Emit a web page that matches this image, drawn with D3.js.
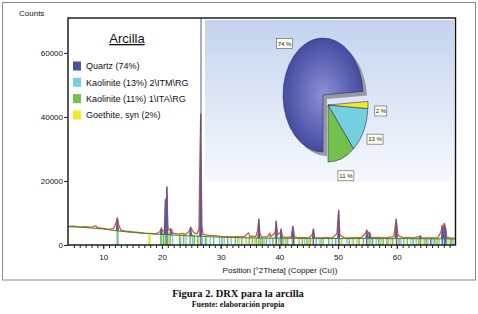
<!DOCTYPE html>
<html>
<head>
<meta charset="utf-8">
<script src="https://cdn.jsdelivr.net/npm/d3@7"></script>
<style>
  body { margin: 0; background: #fff; }
  svg { display: block; font-family: "Liberation Sans", Arial, sans-serif; }
</style>
</head>
<body>
<div id="chart"></div>
<script>
// axis ticks
const xTicks = [10, 20, 30, 40, 50, 60]
const yTicks = [0, 20000, 40000, 60000]

// fitted background (green)
const background = [
  [4, 5700], [6, 5600], [8, 5300], [10, 5000], [12, 4500], [14, 4100], [16, 3800],
  [18, 3500], [20, 3300], [22, 3100], [24, 2900], [26, 2750], [28, 2600], [30, 2450],
  [33, 2300], [36, 2200], [40, 2100], [45, 2050], [50, 2000], [55, 2000], [60, 2000],
  [65, 1950], [70, 1900]
]

// observed profile (red)
const observed = [
  [4, 5800], [5, 5900], [6, 5600], [7, 5700], [8, 5500], [8.7, 6000], [9, 5400], [10, 5200],
  [11, 4900], [11.8, 5200], [12.2, 7000], [12.4, 8500], [12.6, 6500], [13, 4600], [14, 4300],
  [15, 4100], [16, 3900], [17, 3700], [18, 3600], [19, 3500], [19.7, 4200], [19.9, 5400],
  [20.1, 4300], [20.4, 4500], [20.6, 14400], [20.75, 9000], [20.85, 18200], [21.0, 5500],
  [21.3, 4600], [21.5, 5200], [21.7, 4000], [22, 3600], [23, 3400], [23.5, 3600], [24, 3300],
  [24.6, 4200], [24.9, 5600], [25.2, 4500], [25.5, 3800], [26, 3500], [26.3, 5000],
  [26.6, 41000], [26.8, 6000], [27, 3300], [28, 3000], [29, 2900], [30, 2700], [31, 2600],
  [32, 2500], [33, 2600], [34, 2500], [34.7, 3800], [35, 2700], [36, 2700], [36.3, 4500],
  [36.5, 8100], [36.7, 3500], [37, 2500], [38, 2600], [38.3, 3500], [38.6, 2600], [39.3, 4000],
  [39.45, 7500], [39.7, 3200], [40.2, 4000], [40.3, 5000], [40.5, 2600], [41, 2400], [42, 2500],
  [42.3, 5900], [42.6, 2500], [43, 2300], [44, 2300], [45, 2200], [45.6, 3200], [45.8, 5000],
  [46, 2300], [47, 2200], [48, 2300], [49, 2200], [49.8, 3500], [50.1, 10900], [50.3, 3200],
  [51, 2300], [52, 2200], [53, 2300], [54, 2400], [54.7, 3800], [54.9, 4700], [55.2, 3500],
  [55.35, 4000], [55.6, 2400], [56, 2300], [57, 2300], [58, 2200], [59.5, 2600], [59.9, 8100],
  [60.2, 3000], [61, 2300], [62, 2300], [63, 2200], [64, 2800], [64.2, 2300], [65, 2200],
  [66, 2200], [67, 2300], [67.5, 4000], [67.75, 6200], [67.9, 4500], [68.1, 6800], [68.3, 5500],
  [68.5, 2500], [69, 2200], [70, 2100]
]

// calculated peaks (purple): position, top, base
const calcPeaks = [
  [12.4, 8000, 4500], [19.9, 5000, 3300], [20.6, 14000, 3300], [20.85, 18000, 3300],
  [21.5, 4800, 3200], [24.9, 5400, 2900], [26.6, 40500, 2750], [36.5, 8000, 2200],
  [39.45, 7400, 2100], [40.3, 4900, 2100], [42.3, 5800, 2100], [45.8, 4900, 2050],
  [50.1, 10800, 2000], [54.9, 4600, 2000], [55.35, 3900, 2000], [59.9, 8000, 2000],
  [64, 2700, 1950], [67.75, 6100, 1950], [68.1, 6700, 1950], [68.3, 5300, 1950]
]

// reference sticks per phase: position, counts
const quartzSticks = [
  [20.86, 4500], [26.64, 9000], [36.54, 3000], [39.47, 3200], [40.29, 2800], [42.45, 3000],
  [45.79, 2800], [50.14, 3600], [54.87, 2600], [55.33, 2400], [59.96, 3200], [64.04, 2400],
  [65.79, 2200], [67.74, 3000], [68.14, 3300], [68.32, 2600]
]
const kaol2Sticks = [
  [12.36, 8800], [20.0, 3600], [21.8, 5000], [23.2, 2500], [24.1, 3200], [25.2, 3400],
  [26.9, 2400], [27.6, 2300], [28.2, 2500], [29.8, 2400], [30.6, 2200], [31.8, 2200],
  [32.9, 2300], [34.3, 2400], [35.8, 2300], [37.4, 2000], [38.4, 4000], [41.0, 2100],
  [43.4, 2200], [44.3, 2100], [45.0, 2000], [46.9, 2000], [47.5, 2100], [49.0, 2200],
  [51.5, 2200], [52.6, 2100], [53.2, 2100], [55.6, 2300], [56.5, 2100], [57.2, 2100],
  [58.6, 2200], [60.7, 2100], [61.2, 2200], [62.4, 2300], [63.3, 2100], [65.3, 2200],
  [66.2, 2100], [67.2, 2200], [69.1, 2200], [69.6, 2100]
]
const kaol1Sticks = [
  [12.5, 8000], [19.8, 4200], [20.3, 4000], [20.6, 3800], [21.2, 3500], [21.4, 3300],
  [23.0, 3500], [23.7, 3300], [24.8, 4000], [25.5, 3200], [26.1, 3000], [27.4, 2800],
  [28.8, 2600], [30.2, 2500], [31.2, 2400], [32.5, 2500], [33.6, 2400], [34.9, 2600],
  [35.4, 2400], [36.1, 2300], [36.8, 2200], [37.1, 2200], [37.8, 2300], [38.9, 2300],
  [39.9, 2200], [40.6, 2200], [41.4, 2200], [42.2, 2300], [43.9, 2100], [44.7, 2100],
  [45.3, 2000], [46.3, 2100], [47.2, 2100], [48.4, 2200], [49.6, 2100], [50.6, 2100],
  [51.9, 2100], [53.6, 2200], [54.3, 2300], [55.9, 2100], [56.9, 2100], [57.7, 2100],
  [58.3, 2100], [59.3, 2200], [60.4, 2100], [61.8, 2100], [62.8, 2100], [63.7, 2200],
  [64.7, 2100], [65.0, 2100], [66.5, 2100], [66.9, 2100], [68.5, 2200], [69.3, 2100]
]
const goethiteSticks = [
  [17.8, 3300], [17.95, 3000], [21.2, 3600], [26.3, 2400], [33.2, 2400], [34.7, 2200],
  [35.9, 2100], [36.6, 2200], [39.98, 2000], [41.2, 2100], [43.3, 2000], [45.0, 2000],
  [47.3, 2000], [50.6, 2000], [52.4, 2000], [53.2, 2100], [55.3, 2000], [57.4, 2000],
  [59.0, 2100], [61.3, 2100], [63.9, 2100], [64.6, 2000], [66.8, 2000], [68.9, 2000]
]

// phase composition
const phases = ['Quartz (74%)', 'Kaolinite (13%) 2\\ITM\\RG', 'Kaolinite (11%) 1\\ITA\\RG', 'Goethite, syn (2%)']
const shares = [74, 13, 11, 2]
const pieLabels = ['74 %', '13 %', '11 %', '2 %']

const colors = ['#4a51a6', '#74cfde', '#74c04c', '#f2ea28']
const stickColors = ['#4650a8', '#72c9dc', '#76b84e', '#e6dc3a']

const width = 478
const height = 314
const margin = { top: 18, left: 68, right: 22.5, bottom: 69 }

const svg = d3.select('#chart').append('svg')
  .attr('width', width)
  .attr('height', height)

// outer frame
svg.append('rect')
  .attr('x', 2.5).attr('y', 2.5)
  .attr('width', 473).attr('height', 277.5)
  .attr('fill', 'none')
  .attr('stroke', '#8a8a8a')

const x = d3.scaleLinear().domain([4, 70]).range([margin.left, width - margin.right])
const y = d3.scaleLinear().domain([0, 70900]).range([height - margin.bottom, margin.top])

const defs = svg.append('defs')
const panelGrad = defs.append('linearGradient')
  .attr('id', 'panel').attr('x1', 0).attr('y1', 0).attr('x2', 0).attr('y2', 1)
panelGrad.append('stop').attr('offset', '0%').attr('stop-color', '#c3d3ee')
panelGrad.append('stop').attr('offset', '100%').attr('stop-color', '#f6f9fd')

const blueGrad = defs.append('radialGradient')
  .attr('id', 'blue').attr('cx', '50%').attr('cy', '50%').attr('r', '50%')
blueGrad.append('stop').attr('offset', '0%').attr('stop-color', '#8c90d4')
blueGrad.append('stop').attr('offset', '100%').attr('stop-color', '#454ba0')

// pie panel
svg.append('rect')
  .attr('x', 205).attr('y', 20)
  .attr('width', 249).attr('height', 162)
  .attr('fill', 'url(#panel)')

// sticks
const stickSets = [quartzSticks, kaol2Sticks, kaol1Sticks, goethiteSticks]
stickSets.forEach((set, i) => {
  svg.append('g').selectAll('rect')
    .data(set)
    .enter()
    .append('rect')
    .attr('x', d => x(d[0]) - 0.75)
    .attr('width', 1.5)
    .attr('y', d => y(d[1]))
    .attr('height', d => y(0) - y(d[1]))
    .attr('fill', stickColors[i])
    .attr('opacity', 0.9)
})

const line = d3.line().x(d => x(d[0])).y(d => y(d[1]))

svg.append('path')
  .datum(observed)
  .attr('d', line)
  .attr('fill', 'none')
  .attr('stroke', '#e8561e')
  .attr('stroke-width', 1.3)
  .attr('stroke-linejoin', 'round')

svg.append('g').selectAll('path')
  .data(calcPeaks)
  .enter()
  .append('path')
  .attr('d', d => line([[d[0] - 0.16, d[2]], [d[0], d[1]], [d[0] + 0.16, d[2]]]))
  .attr('fill', '#5a5aa4')
  .attr('stroke', '#5a5aa4')
  .attr('stroke-width', 1.1)

svg.append('path')
  .datum(background)
  .attr('d', d3.line().curve(d3.curveMonotoneX).x(d => x(d[0])).y(d => y(d[1])))
  .attr('fill', 'none')
  .attr('stroke', '#2f8a40')
  .attr('stroke-width', 1)

// legend box border
svg.append('line')
  .attr('x1', 201).attr('x2', 201)
  .attr('y1', margin.top).attr('y2', 132)
  .attr('stroke', '#5a5a8c')
  .attr('stroke-width', 1)

// plot frame
svg.append('rect')
  .attr('x', margin.left).attr('y', margin.top)
  .attr('width', x.range()[1] - margin.left)
  .attr('height', y(0) - margin.top)
  .attr('fill', 'none')
  .attr('stroke', '#111')
  .attr('stroke-width', 1.4)

// axes
svg.append('g')
  .attr('transform', `translate(0,${y(0)})`)
  .call(d3.axisBottom(x).tickValues(d3.range(5, 70)).tickSize(3).tickFormat(''))
  .call(g => g.select('.domain').remove())
  .call(g => g.selectAll('line').attr('stroke', '#222'))

svg.append('g')
  .attr('transform', `translate(0,${y(0)})`)
  .call(d3.axisBottom(x).tickValues(xTicks).tickSize(4).tickPadding(5))
  .call(g => g.select('.domain').remove())
  .call(g => g.selectAll('line').attr('stroke', '#222'))
  .call(g => g.selectAll('text').style('font-size', '8px').attr('fill', '#111')
    .style('font-family', '"Liberation Sans", Arial, sans-serif'))

svg.append('g')
  .attr('transform', `translate(${margin.left},0)`)
  .call(d3.axisLeft(y).tickValues(yTicks).tickSize(4).tickPadding(1).tickFormat(d3.format('d')))
  .call(g => g.select('.domain').remove())
  .call(g => g.selectAll('line').attr('stroke', '#222'))
  .call(g => g.selectAll('text').style('font-size', '8px').attr('fill', '#111')
    .style('font-family', '"Liberation Sans", Arial, sans-serif'))

svg.append('text')
  .attr('x', 19).attr('y', 16)
  .style('font-size', '8px')
  .attr('fill', '#111')
  .text('Counts')

svg.append('text')
  .attr('x', 280).attr('y', 273)
  .attr('text-anchor', 'middle')
  .style('font-size', '8px')
  .attr('fill', '#111')
  .text('Position [°2Theta] (Copper (Cu))')

// legend
svg.append('text')
  .attr('x', 127).attr('y', 43)
  .attr('text-anchor', 'middle')
  .style('font-size', '13px')
  .style('text-decoration', 'underline')
  .attr('fill', '#111')
  .text('Arcilla')

const legendY = d3.scalePoint().domain(phases).range([66, 115])
const legend = svg.append('g').selectAll('g')
  .data(phases)
  .enter()
  .append('g')
  .attr('transform', d => `translate(73,${legendY(d)})`)
legend.append('rect')
  .attr('x', 0).attr('y', -4.5)
  .attr('width', 8).attr('height', 9)
  .attr('fill', (d, i) => colors[i])
legend.append('text')
  .attr('x', 13).attr('y', 3.3)
  .style('font-size', '9px')
  .attr('fill', '#111')
  .text(d => d)

// pie: quartz sweeps clockwise from 6 o'clock, the small phases fill the lower-right gap
const pieData = d3.pie().sort(null)(shares)
const r = 50
const sx = 0.8
const sy = 1.14
const arc = d3.arc().innerRadius(0).outerRadius(r)
const labelArc = d3.arc().innerRadius(66).outerRadius(66)

const slices = []
const quartzSpan = pieData[0].endAngle - pieData[0].startAngle
slices[0] = { startAngle: Math.PI, endAngle: Math.PI + quartzSpan }
let start = slices[0].endAngle - 2 * Math.PI
// yellow, cyan, green from the top of the gap
;[3, 1, 2].forEach(i => {
  const span = pieData[i].endAngle - pieData[i].startAngle
  slices[i] = { startAngle: start, endAngle: start + span }
  start += span
})

const centers = [[323, 95], [328, 105], [328, 105], [328, 105]]

// shadow of the big slice
svg.append('path')
  .attr('d', arc(slices[0]))
  .attr('transform', `translate(${centers[0][0] + 4},${centers[0][1] + 4}) scale(${sx},${sy})`)
  .attr('fill', '#8a8c92')
  .attr('opacity', 0.85)

slices.forEach((s, i) => {
  svg.append('path')
    .attr('d', arc(s))
    .attr('transform', `translate(${centers[i][0]},${centers[i][1]}) scale(${sx},${sy})`)
    .attr('fill', i === 0 ? 'url(#blue)' : colors[i])
    .attr('stroke', '#2c3060')
    .attr('stroke-width', 0.6)
})

slices.forEach((s, i) => {
  const c = labelArc.centroid(s)
  const lx = centers[i][0] + c[0] * sx
  const ly = centers[i][1] + c[1] * sy + (i === 3 ? 6 : 0)
  const g = svg.append('g').attr('transform', `translate(${lx},${ly})`)
  const w = pieLabels[i].length > 3 ? 16 : 12
  g.append('rect')
    .attr('x', -w / 2).attr('y', -5)
    .attr('width', w).attr('height', 10)
    .attr('fill', '#fffff2')
    .attr('stroke', '#555')
    .attr('stroke-width', 0.6)
  g.append('text')
    .attr('text-anchor', 'middle')
    .attr('y', 2.2)
    .style('font-size', '6px')
    .attr('fill', '#222')
    .text(pieLabels[i])
})

// caption
svg.append('text')
  .attr('x', 238).attr('y', 297)
  .attr('text-anchor', 'middle')
  .style('font-family', '"Liberation Serif", "DejaVu Serif", serif')
  .style('font-weight', 'bold')
  .style('font-size', '10.5px')
  .attr('fill', '#111')
  .text('Figura 2. DRX para la arcilla')

svg.append('text')
  .attr('x', 238).attr('y', 307)
  .attr('text-anchor', 'middle')
  .style('font-family', '"Liberation Serif", "DejaVu Serif", serif')
  .style('font-weight', 'bold')
  .style('font-size', '8px')
  .attr('fill', '#111')
  .text('Fuente: elaboración propia')
</script>
</body>
</html>
